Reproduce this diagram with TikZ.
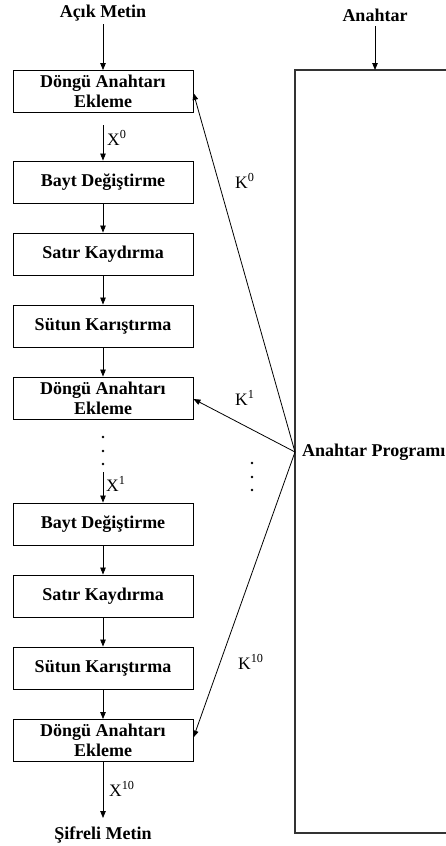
\documentclass[tikz,border=0pt]{standalone}
\usepackage{fontspec}
\setmainfont{Liberation Serif}
\usetikzlibrary{arrows.meta}
\begin{document}
\begin{tikzpicture}[x=1pt,y=-1pt,
  box/.style={draw=black,line width=0.9pt,minimum width=180pt,minimum height=42pt,inner sep=0pt,align=center,font=\fontsize{18}{20}\selectfont\bfseries},
  ttl/.style={font=\fontsize{18}{20}\selectfont\bfseries,inner sep=0pt},
  lbl/.style={font=\fontsize{17.5}{20}\selectfont,inner sep=0pt,anchor=west},
  arr/.style={line width=0.8pt,-{Triangle[length=7pt,width=5.5pt]}},
  dot/.style={circle,fill=black,inner sep=0pt,minimum size=2.8pt}]
\useasboundingbox (0,0) rectangle (446,846);
% left column
\node[ttl] (in) at (103,13) {Açık Metin};
\node[box] (b1) at (103,91.5) {Döngü Anahtarı\\Ekleme};
\node[box] (b2) at (103,182) {Bayt Değiştirme};
\node[box] (b3) at (103,254) {Satır Kaydırma};
\node[box] (b4) at (103,326) {Sütun Karıştırma};
\node[box] (b5) at (103,398) {Döngü Anahtarı\\Ekleme};
\node[box] (b6) at (103,524) {Bayt Değiştirme};
\node[box] (b7) at (103,596) {Satır Kaydırma};
\node[box] (b8) at (103,668) {Sütun Karıştırma};
\node[box] (b9) at (103,740.5) {Döngü Anahtarı\\Ekleme};
\node[ttl] (out) at (103,835) {Şifreli Metin};
\coordinate (x0s) at (103,125);
\coordinate (x1s) at (103,472);
\coordinate (oute) at (103,818);
\draw[arr] (103,24) -- (b1.north);
\draw[arr] (x0s) -- (b2.north);
\draw[arr] (b2.south) -- (b3.north);
\draw[arr] (b3.south) -- (b4.north);
\draw[arr] (b4.south) -- (b5.north);
\draw[arr] (x1s) -- (b6.north);
\draw[arr] (b6.south) -- (b7.north);
\draw[arr] (b7.south) -- (b8.north);
\draw[arr] (b8.south) -- (b9.north);
\draw[arr] (b9.south) -- (oute);
\node[lbl] (x0) at (107,138) {X\textsuperscript{0}};
\node[lbl] (x1) at (106,484) {X\textsuperscript{1}};
\node[lbl] (x10) at (109,789) {X\textsuperscript{10}};
\node[dot] (d1) at (103,437) {};
\node[dot] (d2) at (103,451) {};
\node[dot] (d3) at (103,464) {};
% right
\node[ttl] (key) at (375,15) {Anahtar};
\draw[line width=1.1pt,draw=black!80] (295,70) rectangle (470,833);
\coordinate (kt) at (375,70);
\draw[arr] (375,26) -- (kt);
\node[ttl,anchor=west] (prog) at (302,452) {Anahtar Programı};
\coordinate (c) at (295,452);
\draw[arr] (c) -- ([yshift=-1.5pt]b1.east);
\draw[arr] (c) -- ([yshift=-1pt]b5.east);
\draw[arr] (c) -- ([yshift=3pt]b9.east);
\node[lbl] (k0) at (235,181) {K\textsuperscript{0}};
\node[lbl] (k1) at (235,398) {K\textsuperscript{1}};
\node[lbl] (k10) at (238,662) {K\textsuperscript{10}};
\node[dot] (e1) at (252,463) {};
\node[dot] (e2) at (252,477) {};
\node[dot] (e3) at (252,490) {};
\end{tikzpicture}
\end{document}
